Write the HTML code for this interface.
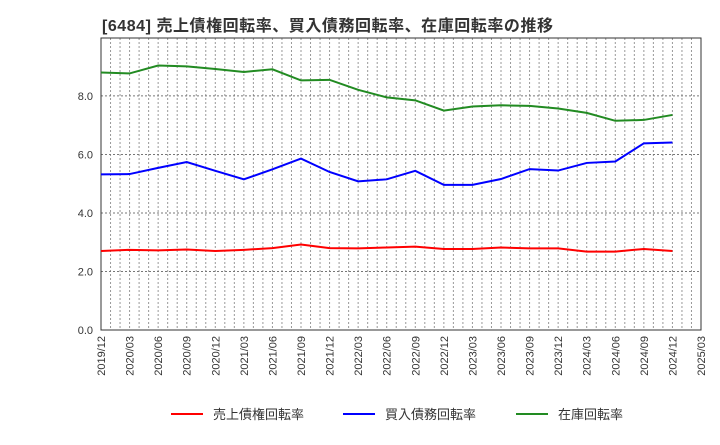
<!DOCTYPE html>
<html><head><meta charset="utf-8"><style>
body{margin:0;background:#fff;font-family:"Liberation Sans","Noto Sans CJK JP",sans-serif}
</style></head><body>
<svg id="chart" width="720" height="440" xmlns="http://www.w3.org/2000/svg">
<text x="102" y="31" font-size="16" font-weight="bold" fill="#333" textLength="451" lengthAdjust="spacing" font-family="Liberation Sans, Noto Sans CJK JP, sans-serif">[6484]  売上債権回転率、買入債務回転率、在庫回転率の推移</text>
<g id="grid"></g><g id="axes"></g><g id="series"></g><g id="legend"></g>
</svg>
<script>
const categories=["2019/12","2020/03","2020/06","2020/09","2020/12","2021/03","2021/06","2021/09","2021/12","2022/03","2022/06","2022/09","2022/12","2023/03","2023/06","2023/09","2023/12","2024/03","2024/06","2024/09","2024/12","2025/03"];
const receivables=[2.70,2.74,2.72,2.75,2.70,2.74,2.80,2.92,2.80,2.79,2.82,2.85,2.77,2.77,2.82,2.79,2.79,2.68,2.68,2.77,2.70];
const payables=[5.32,5.33,5.54,5.74,5.44,5.15,5.49,5.86,5.40,5.08,5.15,5.44,4.96,4.96,5.16,5.50,5.45,5.71,5.76,6.38,6.41];
const inventory=[8.80,8.77,9.04,9.01,8.92,8.82,8.91,8.53,8.55,8.21,7.95,7.85,7.50,7.64,7.68,7.66,7.57,7.42,7.15,7.18,7.35];
const yTicks=[0,2,4,6,8];
const yTickLabels=["0.0","2.0","4.0","6.0","8.0"];
const seriesNames=["売上債権回転率","買入債務回転率","在庫回転率"];
const NS="http://www.w3.org/2000/svg";
const L=101,R=701,T=38,B=330,yMax=9.98;
const x=i=>L+i*(R-L)/(categories.length-1);
const y=v=>B-v*(B-T)/yMax;
function mk(tag,attrs,parent){const e=document.createElementNS(NS,tag);for(const k in attrs)e.setAttribute(k,attrs[k]);parent.appendChild(e);return e;}
const grid=document.getElementById('grid'),axes=document.getElementById('axes'),ser=document.getElementById('series'),leg=document.getElementById('legend');
for(let m=0;m<=63;m++){const xx=L+m*(R-L)/63;
 const g=mk('line',{x1:xx,x2:xx,y1:T,y2:B,stroke:'#999','stroke-dasharray':'2,2','stroke-width':1},grid);
 
 }
yTicks.forEach((v,i)=>{const yy=y(v);
 const g=mk('line',{x1:L,x2:R,y1:yy,y2:yy,stroke:'#777','stroke-dasharray':'2,2','stroke-width':1},grid);
 
 
 const t=mk('text',{x:L-8,y:yy+4,'text-anchor':'end','font-size':11,fill:'#333'},axes);t.textContent=yTickLabels[i];
 
 });
const frame=mk('rect',{x:L,y:T,width:R-L,height:B-T,fill:'none',stroke:'#333','stroke-width':1},axes);


categories.forEach((c,i)=>{const xx=x(i);
 const t=mk('text',{x:xx+4,y:B+6,'text-anchor':'end','font-size':11,fill:'#333',transform:`rotate(-90 ${xx+4} ${B+6})`},axes);t.textContent=c;
 
 });
const data=[receivables,payables,inventory],colors=['#ff0000','#0000ff','#228b22'],names=['receivables-turnover-line','payables-turnover-line','inventory-turnover-line'];
data.forEach((d,s)=>{const p=mk('polyline',{points:d.map((v,i)=>x(i)+','+y(v)).join(' '),fill:'none',stroke:colors[s],'stroke-width':2},ser);
 
 });
const lx=[171,343,516];
seriesNames.forEach((n,s)=>{const g=mk('g',{},leg);
 
 
 mk('line',{x1:lx[s],x2:lx[s]+32,y1:414,y2:414,stroke:colors[s],'stroke-width':2},g);
 const t=mk('text',{x:lx[s]+42,y:419,'font-size':13,fill:'#333'},g);t.textContent=n;});
</script>
</body></html>
